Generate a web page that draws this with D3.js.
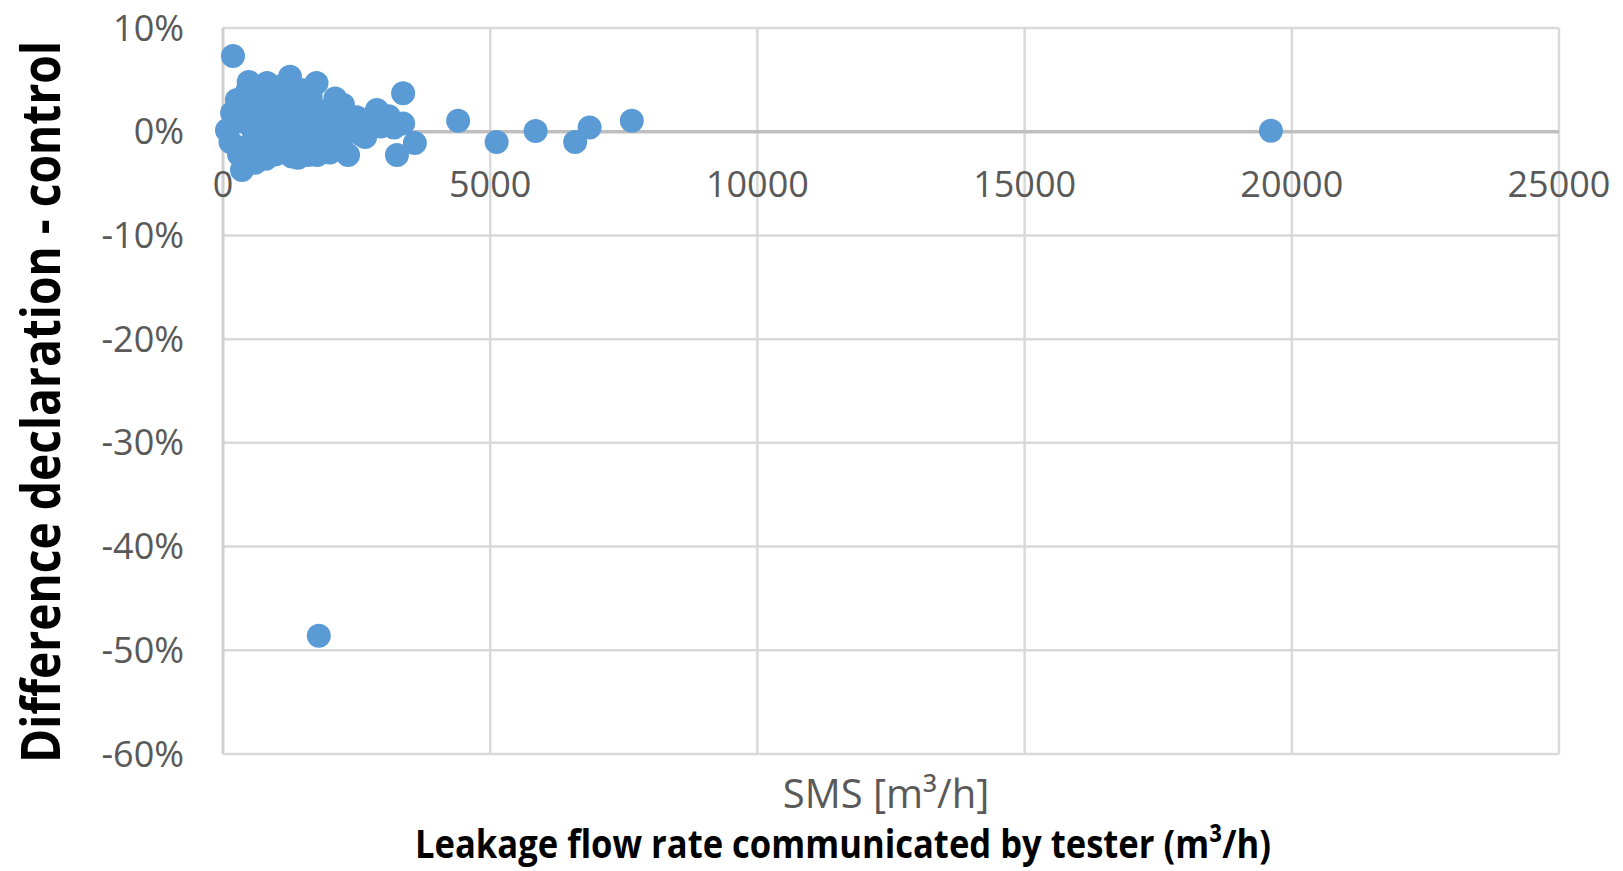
<!DOCTYPE html>
<html>
<head>
<meta charset="utf-8">
<script src="https://cdn.jsdelivr.net/npm/d3@7"></script>
<style>
  html, body { margin: 0; padding: 0; background: #fff; }
  svg { display: block; }
</style>
</head>
<body>
<div id="chart"></div>
<script>
// SMS leakage flow rate (m3/h) and relative difference declaration - control
const smsValues = [
  187, 481, 823, 1254, 1750, 2245, 2880, 3370, 3370, 3590,
  3255, 2660, 2340, 1760, 1590, 1290, 970, 600, 355, 75,
  260, 350, 420, 500, 560, 620, 680, 720, 780, 850,
  900, 950, 1010, 1060, 1100, 1150, 1200, 1260, 1310, 1360,
  1420, 1480, 1530, 1580, 1640, 1700, 1760, 1820, 1880, 1950,
  2010, 2080, 2150, 2200, 2300, 2420, 2500, 2560, 2750, 2950,
  3100, 3200, 460, 700, 1100, 1500, 300, 500, 800, 1100,
  1400, 2000, 2100, 140, 170,
  4400, 5120, 5850, 6590, 6860, 7650, 19610, 1793
]
const differences = [
  0.073, 0.048, 0.047, 0.053, 0.047, 0.026, 0.021, 0.037, 0.008, -0.011,
  -0.0225, -0.005, -0.0225, -0.0225, -0.0225, -0.024, -0.022, -0.030, -0.037, 0.0015,
  0.0305, 0.010, -0.015, 0.025, 0.002, 0.035, -0.012, 0.016, -0.003, 0.028,
  0.009, -0.018, 0.039, 0.012, -0.008, 0.022, 0.004, 0.031, -0.014, 0.018,
  0.001, 0.026, -0.009, 0.013, 0.034, 0.006, -0.013, 0.020, 0.003, 0.015,
  -0.006, 0.024, 0.008, -0.012, 0.010, 0.002, 0.014, -0.002, 0.009, 0.005,
  0.015, 0.004, 0.040, 0.042, 0.044, 0.040, -0.022, -0.025, -0.026, -0.020,
  -0.025, -0.020, 0.032, -0.010, 0.018,
  0.0106, -0.010, 0.0007, -0.010, 0.004, 0.0106, 0.001, -0.486
]
const xTicks = [0, 5000, 10000, 15000, 20000, 25000]
const yTicks = [0.1, 0, -0.1, -0.2, -0.3, -0.4, -0.5, -0.6]

const width = 1623
const height = 871
const margin = {top: 28, right: 64, bottom: 117, left: 223}

const x = d3.scaleLinear()
  .domain([0, 25000])
  .range([margin.left, width - margin.right])

const y = d3.scaleLinear()
  .domain([-0.6, 0.1])
  .range([height - margin.bottom, margin.top])

const svg = d3.select("#chart")
  .append("svg")
  .attr("width", width)
  .attr("height", height)

const grid = "#d9d9d9"
const labelColor = "#595959"

// horizontal gridlines
svg.append("g")
  .selectAll("line")
  .data(yTicks)
  .join("line")
  .attr("x1", x(0))
  .attr("x2", x(25000))
  .attr("y1", d => y(d))
  .attr("y2", d => y(d))
  .style("stroke", grid)
  .style("stroke-width", 2.5)

// vertical gridlines
svg.append("g")
  .selectAll("line")
  .data(xTicks)
  .join("line")
  .attr("x1", d => x(d))
  .attr("x2", d => x(d))
  .attr("y1", y(0.1))
  .attr("y2", y(-0.6))
  .style("stroke", d => d === 0 ? "#cfcfcf" : grid)
  .style("stroke-width", d => d === 0 ? 3 : 2.5)

// x axis line at 0%
svg.append("line")
  .attr("x1", x(0))
  .attr("x2", x(25000))
  .attr("y1", y(0))
  .attr("y2", y(0))
  .style("stroke", "#bfbfbf")
  .style("stroke-width", 3.5)

// y tick labels
svg.append("g")
  .selectAll("text")
  .data(yTicks)
  .join("text")
  .attr("x", 184)
  .attr("y", d => y(d))
  .attr("dy", "0.35em")
  .attr("text-anchor", "end")
  .style("font-family", "'Open Sans', sans-serif")
  .style("font-size", "36px")
  .style("fill", labelColor)
  .text(d => d3.format(".0%")(d).replace("−", "-"))

// x tick labels (axis crosses at 0%)
svg.append("g")
  .selectAll("text")
  .data(xTicks)
  .join("text")
  .attr("x", d => x(d))
  .attr("y", y(0) + 65)
  .attr("text-anchor", "middle")
  .style("font-family", "'Open Sans', sans-serif")
  .style("font-size", "36px")
  .style("fill", labelColor)
  .text(d => d)

// points
svg.append("g")
  .selectAll("circle")
  .data(smsValues.map((v, i) => [v, differences[i]]))
  .join("circle")
  .attr("cx", d => x(d[0]))
  .attr("cy", d => y(d[1]))
  .attr("r", 12)
  .style("fill", "#5b9bd5")

// axis title inside chart
svg.append("text")
  .attr("x", 886)
  .attr("y", 808)
  .attr("text-anchor", "middle")
  .style("font-family", "'Open Sans', sans-serif")
  .style("font-size", "40px")
  .style("fill", labelColor)
  .text("SMS [m³/h]")

// outer titles
svg.append("text")
  .attr("x", 415)
  .attr("y", 858)
  .attr("textLength", 856)
  .attr("lengthAdjust", "spacingAndGlyphs")
  .style("font-family", "'Open Sans', sans-serif")
  .style("font-weight", "bold")
  .style("font-size", "40px")
  .style("fill", "#000")
  .text("Leakage flow rate communicated by tester (m³/h)")

svg.append("text")
  .attr("transform", "translate(60,402) rotate(-90)")
  .attr("text-anchor", "middle")
  .attr("textLength", 722)
  .attr("lengthAdjust", "spacingAndGlyphs")
  .style("font-family", "'Open Sans', sans-serif")
  .style("font-weight", "bold")
  .style("font-size", "53px")
  .style("fill", "#000")
  .text("Difference declaration - control")
</script>
</body>
</html>
